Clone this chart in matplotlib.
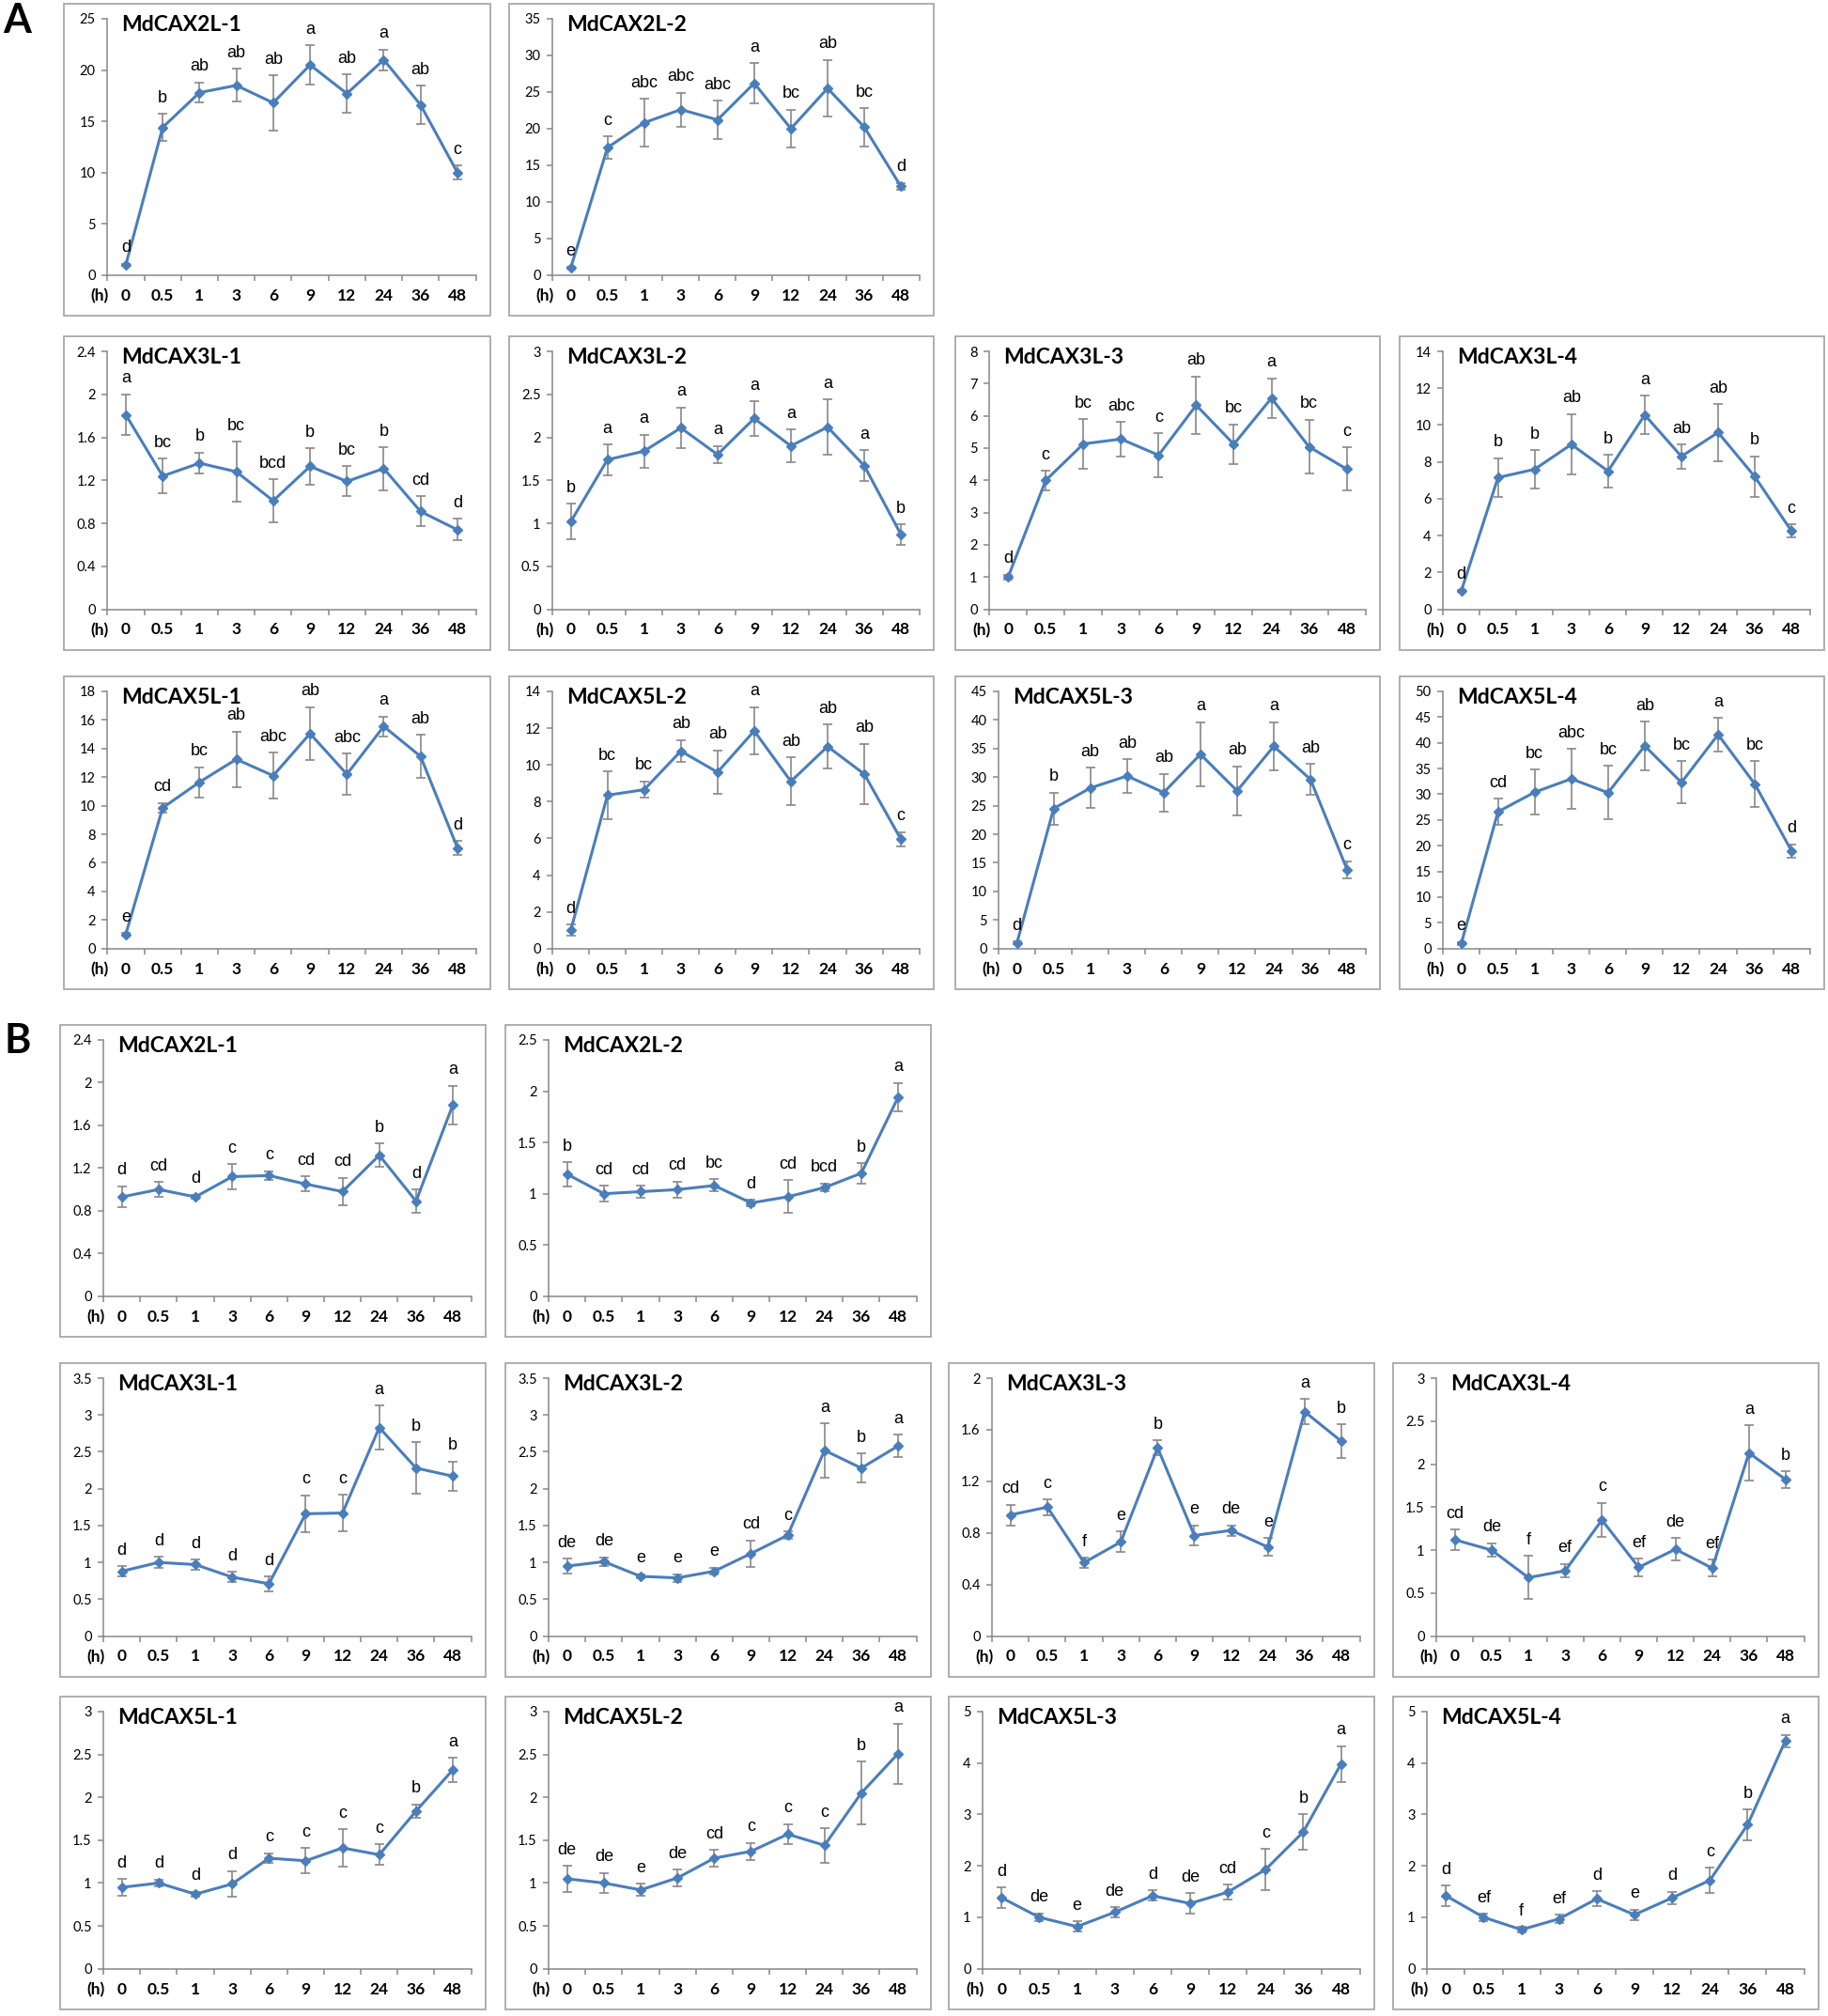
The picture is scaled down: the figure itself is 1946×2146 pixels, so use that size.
import numpy as np
import matplotlib
matplotlib.use("Agg")
import matplotlib.pyplot as plt
from matplotlib.patches import Rectangle
from matplotlib.ticker import FixedLocator, FuncFormatter

hours = ["0", "0.5", "1", "3", "6", "9", "12", "24", "36", "48"]

# ---- panel A ----
a_2l1_mean = [1.0, 14.4, 17.8, 18.5, 16.8, 20.5, 17.7, 21.0, 16.6, 10.0]
a_2l1_err = [0.1, 1.3, 1.0, 1.6, 2.7, 1.9, 1.9, 1.0, 1.9, 0.7]
a_2l1_sig = ["d", "b", "ab", "ab", "ab", "a", "ab", "a", "ab", "c"]

a_2l2_mean = [1.0, 17.4, 20.8, 22.6, 21.2, 26.2, 20.0, 25.5, 20.2, 12.1]
a_2l2_err = [0.1, 1.5, 3.3, 2.3, 2.6, 2.7, 2.6, 3.9, 2.6, 0.5]
a_2l2_sig = ["e", "c", "abc", "abc", "abc", "a", "bc", "ab", "bc", "d"]

a_3l1_mean = [1.81, 1.24, 1.36, 1.28, 1.01, 1.33, 1.19, 1.31, 0.91, 0.74]
a_3l1_err = [0.19, 0.16, 0.10, 0.28, 0.20, 0.17, 0.14, 0.20, 0.14, 0.10]
a_3l1_sig = ["a", "bc", "b", "bc", "bcd", "b", "bc", "b", "cd", "d"]

a_3l2_mean = [1.02, 1.74, 1.84, 2.11, 1.80, 2.22, 1.90, 2.12, 1.67, 0.87]
a_3l2_err = [0.21, 0.18, 0.19, 0.24, 0.10, 0.20, 0.19, 0.32, 0.18, 0.12]
a_3l2_sig = ["b", "a", "a", "a", "a", "a", "a", "a", "a", "b"]

a_3l3_mean = [1.0, 4.0, 5.13, 5.28, 4.78, 6.33, 5.12, 6.55, 5.04, 4.35]
a_3l3_err = [0.08, 0.3, 0.77, 0.54, 0.69, 0.89, 0.62, 0.62, 0.84, 0.67]
a_3l3_sig = ["d", "c", "bc", "abc", "c", "ab", "bc", "a", "bc", "c"]

a_3l4_mean = [1.0, 7.15, 7.6, 8.95, 7.5, 10.55, 8.3, 9.6, 7.2, 4.25]
a_3l4_err = [0.05, 1.05, 1.05, 1.65, 0.9, 1.05, 0.65, 1.55, 1.1, 0.35]
a_3l4_sig = ["d", "b", "b", "ab", "b", "a", "ab", "ab", "b", "c"]

a_5l1_mean = [1.0, 9.85, 11.65, 13.25, 12.1, 15.05, 12.2, 15.55, 13.45, 7.05]
a_5l1_err = [0.1, 0.35, 1.05, 1.95, 1.6, 1.85, 1.45, 0.7, 1.5, 0.5]
a_5l1_sig = ["e", "cd", "bc", "ab", "abc", "ab", "abc", "a", "ab", "d"]

a_5l2_mean = [1.0, 8.35, 8.65, 10.75, 9.6, 11.85, 9.1, 11.0, 9.5, 5.95]
a_5l2_err = [0.3, 1.3, 0.45, 0.6, 1.2, 1.3, 1.3, 1.2, 1.65, 0.4]
a_5l2_sig = ["d", "bc", "bc", "ab", "ab", "a", "ab", "ab", "ab", "c"]

a_5l3_mean = [1.0, 24.5, 28.1, 30.2, 27.3, 34.0, 27.6, 35.4, 29.6, 13.8]
a_5l3_err = [0.2, 2.8, 3.5, 2.9, 3.3, 5.6, 4.3, 4.2, 2.7, 1.5]
a_5l3_sig = ["d", "b", "ab", "ab", "ab", "a", "ab", "a", "ab", "c"]

a_5l4_mean = [1.0, 26.6, 30.4, 33.0, 30.3, 39.4, 32.3, 41.6, 32.0, 19.0]
a_5l4_err = [0.3, 2.5, 4.4, 5.8, 5.2, 4.7, 4.1, 3.3, 4.4, 1.3]
a_5l4_sig = ["e", "cd", "bc", "abc", "bc", "ab", "bc", "a", "bc", "d"]

# ---- panel B ----
b_2l1_mean = [0.93, 1.00, 0.93, 1.12, 1.13, 1.05, 0.98, 1.32, 0.89, 1.79]
b_2l1_err = [0.10, 0.07, 0.02, 0.12, 0.04, 0.07, 0.13, 0.11, 0.11, 0.18]
b_2l1_sig = ["d", "cd", "d", "c", "c", "cd", "cd", "b", "d", "a"]

b_2l2_mean = [1.19, 1.00, 1.02, 1.04, 1.08, 0.91, 0.97, 1.06, 1.20, 1.94]
b_2l2_err = [0.12, 0.08, 0.06, 0.08, 0.06, 0.03, 0.16, 0.04, 0.10, 0.14]
b_2l2_sig = ["b", "cd", "cd", "cd", "bc", "d", "cd", "bcd", "b", "a"]

b_3l1_mean = [0.88, 1.00, 0.97, 0.80, 0.71, 1.66, 1.67, 2.83, 2.28, 2.17]
b_3l1_err = [0.07, 0.08, 0.07, 0.07, 0.10, 0.25, 0.25, 0.30, 0.35, 0.20]
b_3l1_sig = ["d", "d", "d", "d", "d", "c", "c", "a", "b", "b"]

b_3l2_mean = [0.95, 1.01, 0.81, 0.79, 0.88, 1.12, 1.37, 2.52, 2.28, 2.58]
b_3l2_err = [0.10, 0.06, 0.03, 0.05, 0.05, 0.18, 0.05, 0.37, 0.20, 0.15]
b_3l2_sig = ["de", "de", "e", "e", "e", "cd", "c", "a", "b", "a"]

b_3l3_mean = [0.94, 1.00, 0.57, 0.73, 1.46, 0.78, 0.82, 0.69, 1.74, 1.51]
b_3l3_err = [0.08, 0.06, 0.04, 0.08, 0.06, 0.08, 0.04, 0.07, 0.10, 0.13]
b_3l3_sig = ["cd", "c", "f", "e", "b", "e", "de", "e", "a", "b"]

b_3l4_mean = [1.12, 1.00, 0.68, 0.76, 1.35, 0.80, 1.01, 0.79, 2.13, 1.82]
b_3l4_err = [0.12, 0.08, 0.25, 0.08, 0.20, 0.10, 0.13, 0.10, 0.32, 0.10]
b_3l4_sig = ["cd", "de", "f", "ef", "c", "ef", "de", "ef", "a", "b"]

b_5l1_mean = [0.95, 1.00, 0.87, 0.99, 1.29, 1.26, 1.41, 1.33, 1.84, 2.32]
b_5l1_err = [0.10, 0.04, 0.03, 0.15, 0.06, 0.15, 0.22, 0.12, 0.08, 0.14]
b_5l1_sig = ["d", "d", "d", "d", "c", "c", "c", "c", "b", "a"]

b_5l2_mean = [1.05, 1.00, 0.92, 1.06, 1.29, 1.37, 1.57, 1.44, 2.05, 2.51]
b_5l2_err = [0.15, 0.12, 0.07, 0.10, 0.10, 0.10, 0.12, 0.20, 0.37, 0.35]
b_5l2_sig = ["de", "de", "e", "de", "cd", "c", "c", "c", "b", "a"]

b_5l3_mean = [1.38, 1.00, 0.82, 1.10, 1.42, 1.27, 1.49, 1.93, 2.66, 3.98]
b_5l3_err = [0.20, 0.08, 0.10, 0.10, 0.10, 0.20, 0.15, 0.40, 0.35, 0.35]
b_5l3_sig = ["d", "de", "e", "de", "d", "de", "cd", "c", "b", "a"]

b_5l4_mean = [1.42, 1.00, 0.76, 0.97, 1.36, 1.05, 1.38, 1.72, 2.80, 4.43]
b_5l4_err = [0.20, 0.07, 0.05, 0.08, 0.15, 0.10, 0.12, 0.25, 0.30, 0.12]
b_5l4_sig = ["d", "ef", "f", "ef", "d", "e", "d", "c", "b", "a"]

W, H = 1946, 2146
fig = plt.figure(figsize=(W / 100, H / 100), dpi=100)

LINE = "#4a7ebb"
GREY = "#878787"


def panel(box, title, mean, err, sig, ymax, ystep):
    x0, x1, y0, y1 = box
    w, h = x1 - x0, y1 - y0
    fig.patches.append(Rectangle((x0 / W, 1 - y1 / H), w / W, h / H,
                                 transform=fig.transFigure, fill=False,
                                 ec="#a8a8a8", lw=1.3))
    yt = np.arange(0, ymax + ystep / 2, ystep)
    longest = max(len("%g" % round(v, 3)) for v in yt)
    lf = 0.08 if longest == 1 else 0.102
    ax = fig.add_axes([(x0 + lf * w) / W, 1 - (y0 + 0.87 * h) / H,
                       (0.966 - lf) * w / W, 0.822 * h / H])
    x = np.arange(len(mean))
    ax.errorbar(x, mean, yerr=err, fmt="none", ecolor=GREY, elinewidth=1.2,
                capsize=3.3, capthick=1.2, zorder=2)
    ax.plot(x, mean, "-D", color=LINE, lw=2.2, ms=5.5, zorder=3)
    for xi, m, e, s in zip(x, mean, err, sig):
        ax.annotate(s, (xi, m + e), xytext=(0, 6), textcoords="offset points",
                    ha="center", va="bottom", fontsize=13,
                    family="Liberation Sans")
    ax.set_xlim(-0.5, len(mean) - 0.5)
    ax.set_ylim(0, ymax)
    for sp in ["top", "right"]:
        ax.spines[sp].set_visible(False)
    for sp in ["left", "bottom"]:
        ax.spines[sp].set_color(GREY)
        ax.spines[sp].set_linewidth(1.1)
    ax.set_yticks(yt)
    ax.yaxis.set_major_formatter(FuncFormatter(lambda v, p: "%g" % round(v, 3)))
    ax.tick_params(axis="y", direction="out", length=4, width=1.1, color=GREY,
                   pad=5, labelsize=10.5)
    for lab in ax.get_yticklabels():
        lab.set_family("Lato")
    ax.xaxis.set_major_locator(FixedLocator(np.arange(-0.5, len(mean), 1)))
    ax.xaxis.set_major_formatter(FuncFormatter(lambda v, p: ""))
    ax.xaxis.set_minor_locator(FixedLocator(x))
    ax.set_xticklabels(hours, minor=True)
    ax.tick_params(axis="x", which="major", direction="out", length=4,
                   width=1.1, color=GREY)
    ax.tick_params(axis="x", which="minor", length=0, pad=10, labelsize=12.5)
    for lab in ax.get_xticklabels(minor=True):
        lab.set_family("Lato")
        lab.set_weight("bold")
    ax.annotate("(h)", (0, 0), xycoords="axes fraction", xytext=(-6, -16),
                textcoords="offset points", ha="center", va="center",
                fontsize=12.5, family="Lato", weight="bold")
    ax.annotate(title, (0, 1), xycoords="axes fraction", xytext=(11, -5),
                textcoords="offset points", ha="left", va="center",
                fontsize=16.5, family="Lato", weight="bold")
    return ax


cols_a = [(68, 522), (542, 994), (1017, 1469), (1490, 1942)]
cols_b = [(64, 517), (538, 991), (1010, 1463), (1483, 1936)]
rows = [(4, 336), (358, 692), (720, 1053), (1091, 1423), (1451, 1785), (1806, 2139)]

panel(cols_a[0] + rows[0], "MdCAX2L-1", a_2l1_mean, a_2l1_err, a_2l1_sig, 25, 5)
panel(cols_a[1] + rows[0], "MdCAX2L-2", a_2l2_mean, a_2l2_err, a_2l2_sig, 35, 5)
panel(cols_a[0] + rows[1], "MdCAX3L-1", a_3l1_mean, a_3l1_err, a_3l1_sig, 2.4, 0.4)
panel(cols_a[1] + rows[1], "MdCAX3L-2", a_3l2_mean, a_3l2_err, a_3l2_sig, 3, 0.5)
panel(cols_a[2] + rows[1], "MdCAX3L-3", a_3l3_mean, a_3l3_err, a_3l3_sig, 8, 1)
panel(cols_a[3] + rows[1], "MdCAX3L-4", a_3l4_mean, a_3l4_err, a_3l4_sig, 14, 2)
panel(cols_a[0] + rows[2], "MdCAX5L-1", a_5l1_mean, a_5l1_err, a_5l1_sig, 18, 2)
panel(cols_a[1] + rows[2], "MdCAX5L-2", a_5l2_mean, a_5l2_err, a_5l2_sig, 14, 2)
panel(cols_a[2] + rows[2], "MdCAX5L-3", a_5l3_mean, a_5l3_err, a_5l3_sig, 45, 5)
panel(cols_a[3] + rows[2], "MdCAX5L-4", a_5l4_mean, a_5l4_err, a_5l4_sig, 50, 5)

panel(cols_b[0] + rows[3], "MdCAX2L-1", b_2l1_mean, b_2l1_err, b_2l1_sig, 2.4, 0.4)
panel(cols_b[1] + rows[3], "MdCAX2L-2", b_2l2_mean, b_2l2_err, b_2l2_sig, 2.5, 0.5)
panel(cols_b[0] + rows[4], "MdCAX3L-1", b_3l1_mean, b_3l1_err, b_3l1_sig, 3.5, 0.5)
panel(cols_b[1] + rows[4], "MdCAX3L-2", b_3l2_mean, b_3l2_err, b_3l2_sig, 3.5, 0.5)
panel(cols_b[2] + rows[4], "MdCAX3L-3", b_3l3_mean, b_3l3_err, b_3l3_sig, 2, 0.4)
panel(cols_b[3] + rows[4], "MdCAX3L-4", b_3l4_mean, b_3l4_err, b_3l4_sig, 3, 0.5)
panel(cols_b[0] + rows[5], "MdCAX5L-1", b_5l1_mean, b_5l1_err, b_5l1_sig, 3, 0.5)
panel(cols_b[1] + rows[5], "MdCAX5L-2", b_5l2_mean, b_5l2_err, b_5l2_sig, 3, 0.5)
panel(cols_b[2] + rows[5], "MdCAX5L-3", b_5l3_mean, b_5l3_err, b_5l3_sig, 5, 1)
panel(cols_b[3] + rows[5], "MdCAX5L-4", b_5l4_mean, b_5l4_err, b_5l4_sig, 5, 1)

fig.text(18 / W, 1 - 22 / H, "A", fontsize=31, weight="bold", family="Lato",
         ha="center", va="center")
fig.text(19 / W, 1 - 1108 / H, "B", fontsize=31, weight="bold", family="Lato",
         ha="center", va="center")

fig.savefig("out.png", dpi=100)
